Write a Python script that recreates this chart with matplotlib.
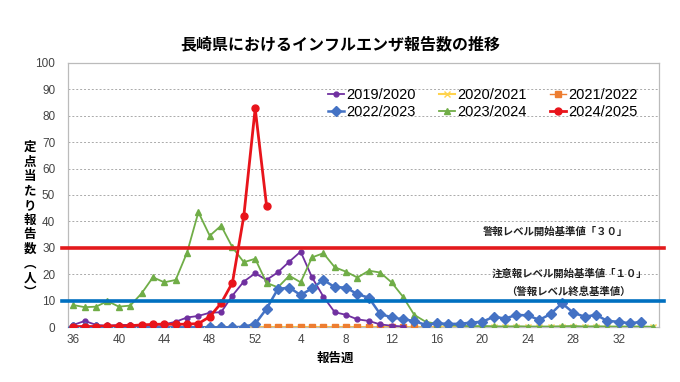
import matplotlib
matplotlib.use("Agg")
import matplotlib.pyplot as plt
import matplotlib.transforms as mtransforms
import numpy as np

plt.rcParams['font.family'] = ['Liberation Sans', 'Noto Sans CJK JP']
JP = ['Noto Sans CJK JP', 'DejaVu Sans']

# report weeks: 36..52 then 1..35
weeks = list(range(36, 53)) + list(range(1, 36))
tick_weeks = [36, 40, 44, 48, 52, 4, 8, 12, 16, 20, 24, 28, 32]

s2019 = [0.9, 2.4, 0.9, 0.6, 0.9, 0.9, 0.6, 0.9, 1.1, 2.1, 3.7, 4.3, 5.5, 5.7, 12.0, 17.3, 20.4,
         17.9, 20.8, 24.8, 28.6, 18.9, 11.6, 5.7, 4.7, 3.0, 2.4, 1.1, 0.6, 0.3]
s2020 = [0.0] * 52
s2021 = [0.0] * 17          # from week 52 to week 16
s2021_start = 16
s2022 = [0, 0, 0, 0, 0, 0, 0, 0, 0, 0, 0, 0, 0, 0, 0, 0.2, 1.3,
         7.0, 14.5, 15.0, 12.2, 14.7, 17.9, 15.2, 15.0, 12.5, 11.2, 5.0, 3.8, 3.0, 2.4, 0.9,
         1.5, 1.3, 1.3, 1.8, 2.1, 4.0, 3.3, 4.7, 4.5, 2.8, 5.0, 9.1, 5.5, 4.0, 4.7, 2.4, 2.1,
         1.5, 2.1]
s2023 = [8.4, 7.6, 7.8, 9.9, 7.8, 8.2, 12.8, 18.9, 17.0, 17.9, 28.2, 43.5, 34.6, 38.4, 30.2,
         24.6, 25.9, 16.8, 15.1, 19.5, 17.0, 26.4, 28.0, 22.7, 21.0, 18.8, 21.4, 20.7, 17.0,
         11.6, 4.7, 2.1, 1.3, 0.8, 0.6, 0.4, 0.5, 0.4, 0.3, 0.4, 0.3, 0.3, 0.3, 0.4, 0.5, 0.3,
         0.4, 0.3, 0.3, 0.3, 0.3, 0.2]
s2024 = [0.3, 0.3, 0.3, 0.5, 0.5, 0.6, 0.9, 1.1, 1.2, 1.1, 1.2, 1.4, 4.0, 9.1, 16.9, 42.1,
         82.7, 46.0]

alert_start = 30
caution_start = 10

fig = plt.figure(figsize=(6.8, 3.82), dpi=100)
ax = fig.add_axes([0.0996, 0.1432, 0.8688, 0.6927])

x = np.arange(len(weeks))
ax.plot(x[:len(s2020)], s2020, color='#FFD34D', lw=1.5, marker='x', ms=4, zorder=2,
        label='2020/2021')
ax.plot(x[:len(s2019)], s2019, color='#7030A0', lw=1.3, marker='o', ms=3.5, zorder=4,
        label='2019/2020')
ax.plot(x[s2021_start:s2021_start + len(s2021)], s2021, color='#ED7D31', lw=1.0,
        marker='s', ms=4.2, zorder=3, label='2021/2022')
ax.plot(x[:len(s2022)], s2022, color='#4472C4', lw=1.8, marker='D', ms=5, zorder=5,
        label='2022/2023')
ax.plot(x[:len(s2023)], s2023, color='#70AD47', lw=1.3, marker='^', ms=5, zorder=4,
        label='2023/2024')
ax.plot(x[:len(s2024)], s2024, color='#E8141B', lw=2, marker='o', ms=5, zorder=6,
        label='2024/2025')

# threshold lines stretch a little past the plot frame
tr = mtransforms.blended_transform_factory(ax.transAxes, ax.transData)
ax.plot([-0.009, 1.01], [alert_start] * 2, color='#E31A1C', lw=2.6, transform=tr,
        clip_on=False, zorder=7)
ax.plot([-0.009, 1.01], [caution_start] * 2, color='#0070C0', lw=2.6, transform=tr,
        clip_on=False, zorder=7)

ax.text(0.949, 36, '警報レベル開始基準値「３０」', transform=tr, ha='right', va='center',
        fontsize=7.5, fontweight='bold', family=JP, color='#222222')
ax.text(0.981, 20.2, '注意報レベル開始基準値「１０」', transform=tr, ha='right', va='center',
        fontsize=7.5, fontweight='bold', family=JP, color='#222222')
ax.text(0.952, 13.3, '（警報レベル終息基準値）', transform=tr, ha='right', va='center',
        fontsize=7.5, fontweight='bold', family=JP, color='#222222')

ax.set_xlim(-0.5, len(weeks) - 0.5)
ax.set_ylim(0, 100)
ax.set_yticks(range(0, 101, 10))
ax.set_xticks([weeks.index(w) for w in tick_weeks])
ax.set_xticklabels([str(w) for w in tick_weeks])
ax.tick_params(length=0, labelsize=8.5, labelcolor='#444444')
ax.tick_params(axis='y', pad=9)
ax.tick_params(axis='x', pad=5)
for y in range(10, 100, 10):
    ax.axhline(y, color='#AAAAAA', lw=0.7, ls=(0, (2, 2)), zorder=1)
for s in ax.spines.values():
    s.set_color('#BBBBBB')
    s.set_linewidth(0.9)

handles, labels = ax.get_legend_handles_labels()
order = ['2019/2020', '2022/2023', '2020/2021', '2023/2024', '2021/2022', '2024/2025']
hmap = dict(zip(labels, handles))
leg = ax.legend([hmap[k] for k in order], order, ncol=3, loc='upper left',
                bbox_to_anchor=(322 / 680, 1 - 82 / 382), bbox_transform=fig.transFigure,
                frameon=False, fontsize=10.5, handlelength=1.1, handletextpad=0.15,
                columnspacing=1.6, labelspacing=0.25, borderaxespad=0)

fig.text(0.5, 1 - 44 / 382, '長崎県におけるインフルエンザ報告数の推移', ha='center', va='center',
         fontsize=11.5, fontweight='bold', family=JP)
fig.text(335 / 680, 1 - 358 / 382, '報告週', ha='center', va='center', fontsize=9,
         fontweight='bold', family=JP)
fig.text(30 / 680, 1 - 220 / 382, '\n'.join('定点当たり報告数︵人︶'), ha='center', va='center',
         fontsize=9, fontweight='bold', family=JP, linespacing=1.15)

plt.savefig('out.png', dpi=100)
